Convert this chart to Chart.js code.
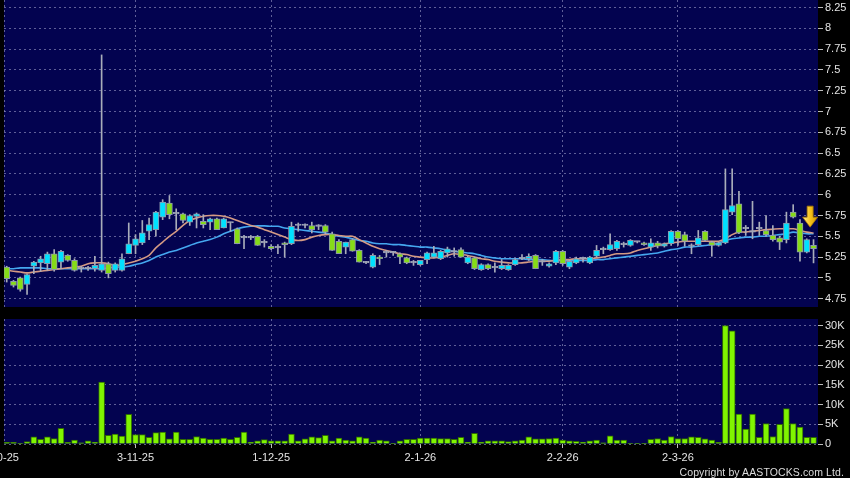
<!DOCTYPE html>
<html>
<head>
<meta charset="utf-8">
<script src="https://cdn.jsdelivr.net/npm/chart.js@4.4.1/dist/chart.umd.min.js"></script>
<style>
  body { margin: 0; background: #000; width: 850px; height: 478px; overflow: hidden; position: relative; }
  #price { position: absolute; left: 0; top: 0; }
  #volume { position: absolute; left: 0; top: 319px; }
  #copy { position: absolute; right: 6px; top: 466px; font: 10.5px "Liberation Sans", Arial, sans-serif; color: #dcdcdc; letter-spacing: 0.1px; }
</style>
</head>
<body>
<canvas id="price" width="850" height="307"></canvas>
<canvas id="volume" width="850" height="159"></canvas>
<div id="copy">Copyright by AASTOCKS.com Ltd.</div>
<script>
// daily candles, one per trading day (index 0 = first visible day)
const opens = [
  5.13, 4.96, 5.00, 4.92, 5.14, 5.18, 5.17, 5.29, 5.19, 5.27,
  5.21, 5.11, 5.11, 5.11, 5.09, 5.17, 5.09, 5.09, 5.29, 5.39,
  5.42, 5.56, 5.58, 5.73, 5.90, 5.77, 5.77, 5.67, 5.74, 5.68,
  5.67, 5.71, 5.60, 5.66, 5.59, 5.48, 5.48, 5.50, 5.42, 5.38,
  5.36, 5.42, 5.41, 5.63, 5.63, 5.63, 5.62, 5.63, 5.53, 5.44,
  5.37, 5.46, 5.33, 5.18, 5.13, 5.25, 5.30, 5.30, 5.29, 5.24,
  5.18, 5.16, 5.22, 5.25, 5.23, 5.30, 5.31, 5.34, 5.18, 5.24,
  5.10, 5.16, 5.12, 5.11, 5.10, 5.16, 5.23, 5.23, 5.27, 5.19,
  5.14, 5.18, 5.32, 5.13, 5.18, 5.23, 5.18, 5.26, 5.34, 5.34,
  5.35, 5.40, 5.39, 5.43, 5.42, 5.37, 5.42, 5.38, 5.41, 5.56,
  5.52, 5.38, 5.40, 5.56, 5.43, 5.39, 5.42, 5.79, 5.89, 5.59,
  5.55, 5.59, 5.57, 5.51, 5.48, 5.46, 5.79, 5.66, 5.31, 5.39
];
const highs = [
  5.14, 4.97, 5.01, 5.05, 5.20, 5.26, 5.31, 5.34, 5.33, 5.28,
  5.23, 5.14, 5.14, 5.26, 7.68, 5.19, 5.18, 5.29, 5.66, 5.52,
  5.69, 5.72, 5.80, 5.94, 5.99, 5.83, 5.78, 5.76, 5.78, 5.76,
  5.72, 5.72, 5.72, 5.67, 5.60, 5.51, 5.51, 5.51, 5.46, 5.40,
  5.40, 5.43, 5.67, 5.66, 5.65, 5.67, 5.64, 5.64, 5.55, 5.46,
  5.43, 5.47, 5.34, 5.20, 5.29, 5.27, 5.33, 5.32, 5.30, 5.25,
  5.21, 5.21, 5.31, 5.38, 5.33, 5.37, 5.36, 5.36, 5.26, 5.25,
  5.17, 5.17, 5.18, 5.22, 5.16, 5.23, 5.28, 5.29, 5.28, 5.22,
  5.18, 5.33, 5.33, 5.21, 5.25, 5.25, 5.26, 5.39, 5.37, 5.53,
  5.45, 5.43, 5.46, 5.44, 5.43, 5.47, 5.44, 5.42, 5.57, 5.57,
  5.55, 5.41, 5.57, 5.57, 5.44, 5.43, 6.31, 6.31, 6.04, 5.63,
  5.92, 5.67, 5.75, 5.63, 5.50, 5.79, 5.88, 5.70, 5.47, 5.46
];
const lows = [
  4.95, 4.89, 4.84, 4.80, 5.05, 5.08, 5.09, 5.08, 5.11, 5.20,
  5.08, 5.07, 5.09, 5.08, 5.07, 5.00, 5.07, 5.08, 5.29, 5.29,
  5.40, 5.46, 5.50, 5.70, 5.71, 5.58, 5.66, 5.63, 5.60, 5.60,
  5.58, 5.58, 5.60, 5.56, 5.41, 5.35, 5.46, 5.39, 5.37, 5.34,
  5.29, 5.25, 5.40, 5.56, 5.60, 5.54, 5.58, 5.53, 5.33, 5.29,
  5.29, 5.32, 5.19, 5.17, 5.12, 5.16, 5.25, 5.27, 5.17, 5.17,
  5.15, 5.15, 5.17, 5.24, 5.22, 5.25, 5.26, 5.25, 5.17, 5.10,
  5.09, 5.10, 5.07, 5.10, 5.09, 5.15, 5.22, 5.21, 5.11, 5.15,
  5.13, 5.16, 5.15, 5.11, 5.17, 5.19, 5.17, 5.25, 5.29, 5.33,
  5.33, 5.37, 5.38, 5.42, 5.39, 5.33, 5.36, 5.37, 5.39, 5.39,
  5.38, 5.29, 5.39, 5.44, 5.26, 5.38, 5.41, 5.76, 5.53, 5.51,
  5.47, 5.51, 5.50, 5.44, 5.34, 5.42, 5.72, 5.20, 5.30, 5.18
];
const closes = [
  4.99, 4.91, 4.86, 5.04, 5.19, 5.23, 5.29, 5.10, 5.32, 5.21,
  5.09, 5.11, 5.11, 5.15, 5.17, 5.05, 5.17, 5.23, 5.41, 5.47,
  5.54, 5.64, 5.79, 5.91, 5.76, 5.77, 5.69, 5.75, 5.77, 5.64,
  5.71, 5.58, 5.71, 5.66, 5.41, 5.48, 5.48, 5.39, 5.42, 5.35,
  5.36, 5.40, 5.62, 5.63, 5.63, 5.58, 5.62, 5.55, 5.33, 5.29,
  5.43, 5.32, 5.19, 5.18, 5.27, 5.23, 5.30, 5.30, 5.25, 5.18,
  5.18, 5.21, 5.30, 5.30, 5.32, 5.35, 5.31, 5.25, 5.25, 5.11,
  5.16, 5.11, 5.12, 5.15, 5.15, 5.22, 5.23, 5.26, 5.11, 5.19,
  5.17, 5.32, 5.17, 5.20, 5.23, 5.23, 5.25, 5.33, 5.34, 5.40,
  5.44, 5.40, 5.45, 5.43, 5.40, 5.42, 5.38, 5.41, 5.56, 5.47,
  5.44, 5.38, 5.48, 5.45, 5.39, 5.42, 5.82, 5.87, 5.54, 5.59,
  5.55, 5.59, 5.52, 5.46, 5.43, 5.66, 5.73, 5.31, 5.46, 5.35
];
const volumes = [
  400, 400, 200, 600, 1800, 1200, 1800, 1400, 4000, 400,
  1000, 300, 800, 500, 15700, 2200, 2500, 2000, 7500, 2400,
  2400, 1700, 2900, 3000, 1300, 3000, 1200, 1200, 1900, 1500,
  1200, 1200, 1500, 1200, 1700, 3000, 500, 800, 1100, 800,
  800, 800, 2500, 800, 1300, 1800, 1600, 2200, 800, 1500,
  1000, 800, 1800, 1500, 500, 1000, 800, 200, 800, 1200,
  1200, 1500, 1500, 1500, 1400, 1400, 1200, 1700, 500, 2700,
  500, 800, 800, 800, 600, 800, 1000, 1800, 1300, 1300,
  1400, 1500, 1000, 800, 700, 500, 800, 1000, 300, 2100,
  1000, 1000, 200, 100, 100, 1200, 1400, 1000, 1900, 1400,
  1400, 1800, 1700, 1300, 1000, 400, 30000, 28700, 7600, 3800,
  7600, 1700, 5200, 1900, 5000, 9000, 5200, 4300, 1700, 1700
];
// moving averages as drawn on the chart
const ma10 = [
  5.09, 5.08, 5.07, 5.06, 5.07, 5.08, 5.09, 5.10, 5.11, 5.12,
  5.13, 5.14, 5.17, 5.18, 5.18, 5.17, 5.15, 5.16, 5.18, 5.20,
  5.23, 5.27, 5.36, 5.43, 5.50, 5.56, 5.63, 5.69, 5.72, 5.74,
  5.75, 5.75, 5.74, 5.72, 5.69, 5.66, 5.63, 5.61, 5.58, 5.55,
  5.52, 5.49, 5.46, 5.45, 5.46, 5.49, 5.51, 5.52, 5.52, 5.51,
  5.50, 5.50, 5.46, 5.42, 5.38, 5.35, 5.33, 5.31, 5.29, 5.28,
  5.26, 5.25, 5.24, 5.24, 5.25, 5.27, 5.29, 5.28, 5.27, 5.25,
  5.23, 5.22, 5.20, 5.19, 5.18, 5.18, 5.18, 5.19, 5.20, 5.20,
  5.20, 5.21, 5.22, 5.22, 5.23, 5.23, 5.23, 5.24, 5.25, 5.27,
  5.29, 5.29, 5.30, 5.33, 5.35, 5.37, 5.39, 5.41, 5.42, 5.43,
  5.44, 5.44, 5.44, 5.44, 5.44, 5.44, 5.47, 5.52, 5.55, 5.55,
  5.56, 5.57, 5.58, 5.585, 5.59, 5.59, 5.59, 5.57, 5.55, 5.54
];
const ma20 = [
  5.11, 5.11, 5.12, 5.12, 5.12, 5.12, 5.11, 5.11, 5.11, 5.11,
  5.11, 5.11, 5.11, 5.11, 5.11, 5.12, 5.13, 5.13, 5.14, 5.16,
  5.18, 5.21, 5.25, 5.28, 5.31, 5.33, 5.36, 5.39, 5.42, 5.44,
  5.46, 5.49, 5.53, 5.56, 5.59, 5.61, 5.62, 5.625, 5.625, 5.62,
  5.62, 5.60, 5.59, 5.58, 5.57, 5.56, 5.55, 5.54, 5.52, 5.50,
  5.49, 5.47, 5.45, 5.44, 5.42, 5.41, 5.41, 5.40, 5.40, 5.39,
  5.38, 5.37, 5.37, 5.36, 5.35, 5.33, 5.32, 5.31, 5.30, 5.29,
  5.27, 5.25, 5.24, 5.23, 5.23, 5.23, 5.23, 5.22, 5.22, 5.22,
  5.21, 5.21, 5.21, 5.21, 5.21, 5.21, 5.21, 5.22, 5.22, 5.23,
  5.24, 5.25, 5.26, 5.27, 5.28, 5.29, 5.30, 5.32, 5.34, 5.35,
  5.37, 5.37, 5.38, 5.39, 5.40, 5.42, 5.45, 5.47, 5.48, 5.49,
  5.49, 5.50, 5.50, 5.51, 5.52, 5.53, 5.55, 5.54, 5.53, 5.53
];
const dateIdx = [-1, 19, 39, 61, 82, 99];
const dateLabels = ['2-10-25', '3-11-25', '1-12-25', '2-1-26', '2-2-26', '2-3-26'];
const priceTicks = [4.75, 5, 5.25, 5.5, 5.75, 6, 6.25, 6.5, 6.75, 7, 7.25, 7.5, 7.75, 8, 8.25];
const volTicks = [0, 5000, 10000, 15000, 20000, 25000, 30000];
const arrowAt = { x: 118.5, y: 5.61 };

const NAVY = '#030350';
const GRID = 'rgba(145,145,190,0.65)';
const UP = '#00e1ff', DOWN = '#86dc17', FLAT = '#9ea4b6', WICK = '#a9adba';
const X_MIN = -0.4, X_MAX = 119.66;
const font = { family: '"Liberation Sans", Arial, sans-serif', size: 11 };

function candleColor(i) {
    if (closes[i] > opens[i]) return UP;
    if (closes[i] < opens[i]) return DOWN;
    return FLAT;
}

const panelBg = {
    id: 'panelBg',
    beforeDraw(chart) {
        const { ctx, chartArea: a } = chart;
        ctx.save();
        ctx.fillStyle = NAVY;
        ctx.fillRect(a.left, a.top, a.right - a.left, a.bottom - a.top);
        ctx.strokeStyle = GRID;
        ctx.setLineDash([2, 3]);
        ctx.beginPath();
        ctx.moveTo(a.left + 0.5, a.top);
        ctx.lineTo(a.left + 0.5, a.bottom);
        ctx.stroke();
        ctx.restore();
    }
};

const arrowMark = {
    id: 'arrowMark',
    afterDatasetsDraw(chart) {
        const { ctx, scales: { x, y } } = chart;
        const cx = x.getPixelForValue(arrowAt.x);
        const tip = y.getPixelForValue(arrowAt.y);
        const g = ctx.createLinearGradient(cx - 7, 0, cx + 7, 0);
        g.addColorStop(0, '#ffe98a');
        g.addColorStop(0.5, '#f7c21b');
        g.addColorStop(1, '#d49a00');
        ctx.save();
        ctx.fillStyle = g;
        ctx.strokeStyle = '#a87800';
        ctx.lineWidth = 0.8;
        ctx.beginPath();
        ctx.moveTo(cx - 3, tip - 21);
        ctx.lineTo(cx + 3, tip - 21);
        ctx.lineTo(cx + 3, tip - 10);
        ctx.lineTo(cx + 7.5, tip - 10);
        ctx.lineTo(cx, tip);
        ctx.lineTo(cx - 7.5, tip - 10);
        ctx.lineTo(cx - 3, tip - 10);
        ctx.closePath();
        ctx.fill();
        ctx.stroke();
        ctx.restore();
    }
};

function dateAxis(withLabels) {
    return {
        type: 'linear',
        min: X_MIN,
        max: X_MAX,
        offset: false,
        afterBuildTicks: s => { s.ticks = dateIdx.map(v => ({ value: v })); },
        afterFit: s => { s.paddingLeft = 0; s.paddingRight = 0; s.height = withLabels ? 34 : 0; },
        ticks: {
            display: withLabels, autoSkip: false, maxRotation: 0, minRotation: 0,
            padding: 3, color: '#e4e4e4', font: font,
            callback: (v, i) => dateLabels[i]
        },
        grid: {
            offset: false,
            color: c => (c.tick && c.tick.value < 0) ? 'rgba(0,0,0,0)' : GRID,
            drawTicks: withLabels, tickLength: 4, tickColor: '#bdbdbd', tickBorderDash: [6, 0]
        },
        border: { display: false, dash: [2, 3] }
    };
}

function valueAxis(min, max, tickList, fmt) {
    return {
        position: 'right',
        min: min,
        max: max,
        afterBuildTicks: s => { s.ticks = tickList.map(v => ({ value: v })); },
        afterFit: s => { s.width = 32; s.paddingTop = 0; s.paddingBottom = 0; },
        ticks: { color: '#e4e4e4', font: font, padding: 2, callback: fmt },
        grid: { color: GRID, drawTicks: true, tickLength: 5, tickColor: '#bdbdbd', tickBorderDash: [6, 0] },
        border: { display: false, dash: [2, 3] }
    };
}

const baseOptions = {
    responsive: false,
    animation: false,
    events: [],
    devicePixelRatio: 1,
    layout: { padding: { left: 4, top: 0, right: 0, bottom: 0 } },
    plugins: { legend: { display: false }, tooltip: { enabled: false } }
};

new Chart(document.getElementById('price'), {
    type: 'bar',
    data: {
        datasets: [
            {
                type: 'line', label: 'MA10', order: 3,
                data: ma10.map((v, i) => ({ x: i, y: v })),
                borderColor: '#d49a84', borderWidth: 1.6, pointRadius: 0, tension: 0.3, fill: false
            },
            {
                type: 'line', label: 'MA20', order: 3,
                data: ma20.map((v, i) => ({ x: i, y: v })),
                borderColor: '#45a7ef', borderWidth: 1.6, pointRadius: 0, tension: 0.3, fill: false
            },
            {
                label: 'wick', order: 2, grouped: false, barThickness: 1,
                data: lows.map((l, i) => ({ x: i, y: [l, highs[i]] })),
                backgroundColor: WICK, borderWidth: 0
            },
            {
                label: 'body', order: 1, grouped: false, barThickness: 6, minBarLength: 1.5,
                data: opens.map((o, i) => ({ x: i, y: [o, closes[i]] })),
                backgroundColor: c => candleColor(c.dataIndex),
                borderColor: c => candleColor(c.dataIndex) === FLAT ? FLAT : '#8d98aa',
                borderWidth: 1, borderSkipped: false
            }
        ]
    },
    options: Object.assign({}, baseOptions, {
        scales: {
            x: dateAxis(false),
            y: valueAxis(4.65, 8.34, priceTicks, v => String(+v.toFixed(2)))
        }
    }),
    plugins: [panelBg, arrowMark]
});

new Chart(document.getElementById('volume'), {
    type: 'bar',
    data: {
        datasets: [{
            label: 'Volume', grouped: false, barThickness: 6,
            data: volumes.map((v, i) => ({ x: i, y: v })),
            backgroundColor: '#80f400', borderColor: '#2f6b00', borderWidth: 1
        }]
    },
    options: Object.assign({}, baseOptions, {
        scales: {
            x: dateAxis(true),
            y: valueAxis(0, 31700, volTicks, v => v === 0 ? '0' : (v / 1000) + 'K')
        }
    }),
    plugins: [panelBg]
});
</script>
</body>
</html>
